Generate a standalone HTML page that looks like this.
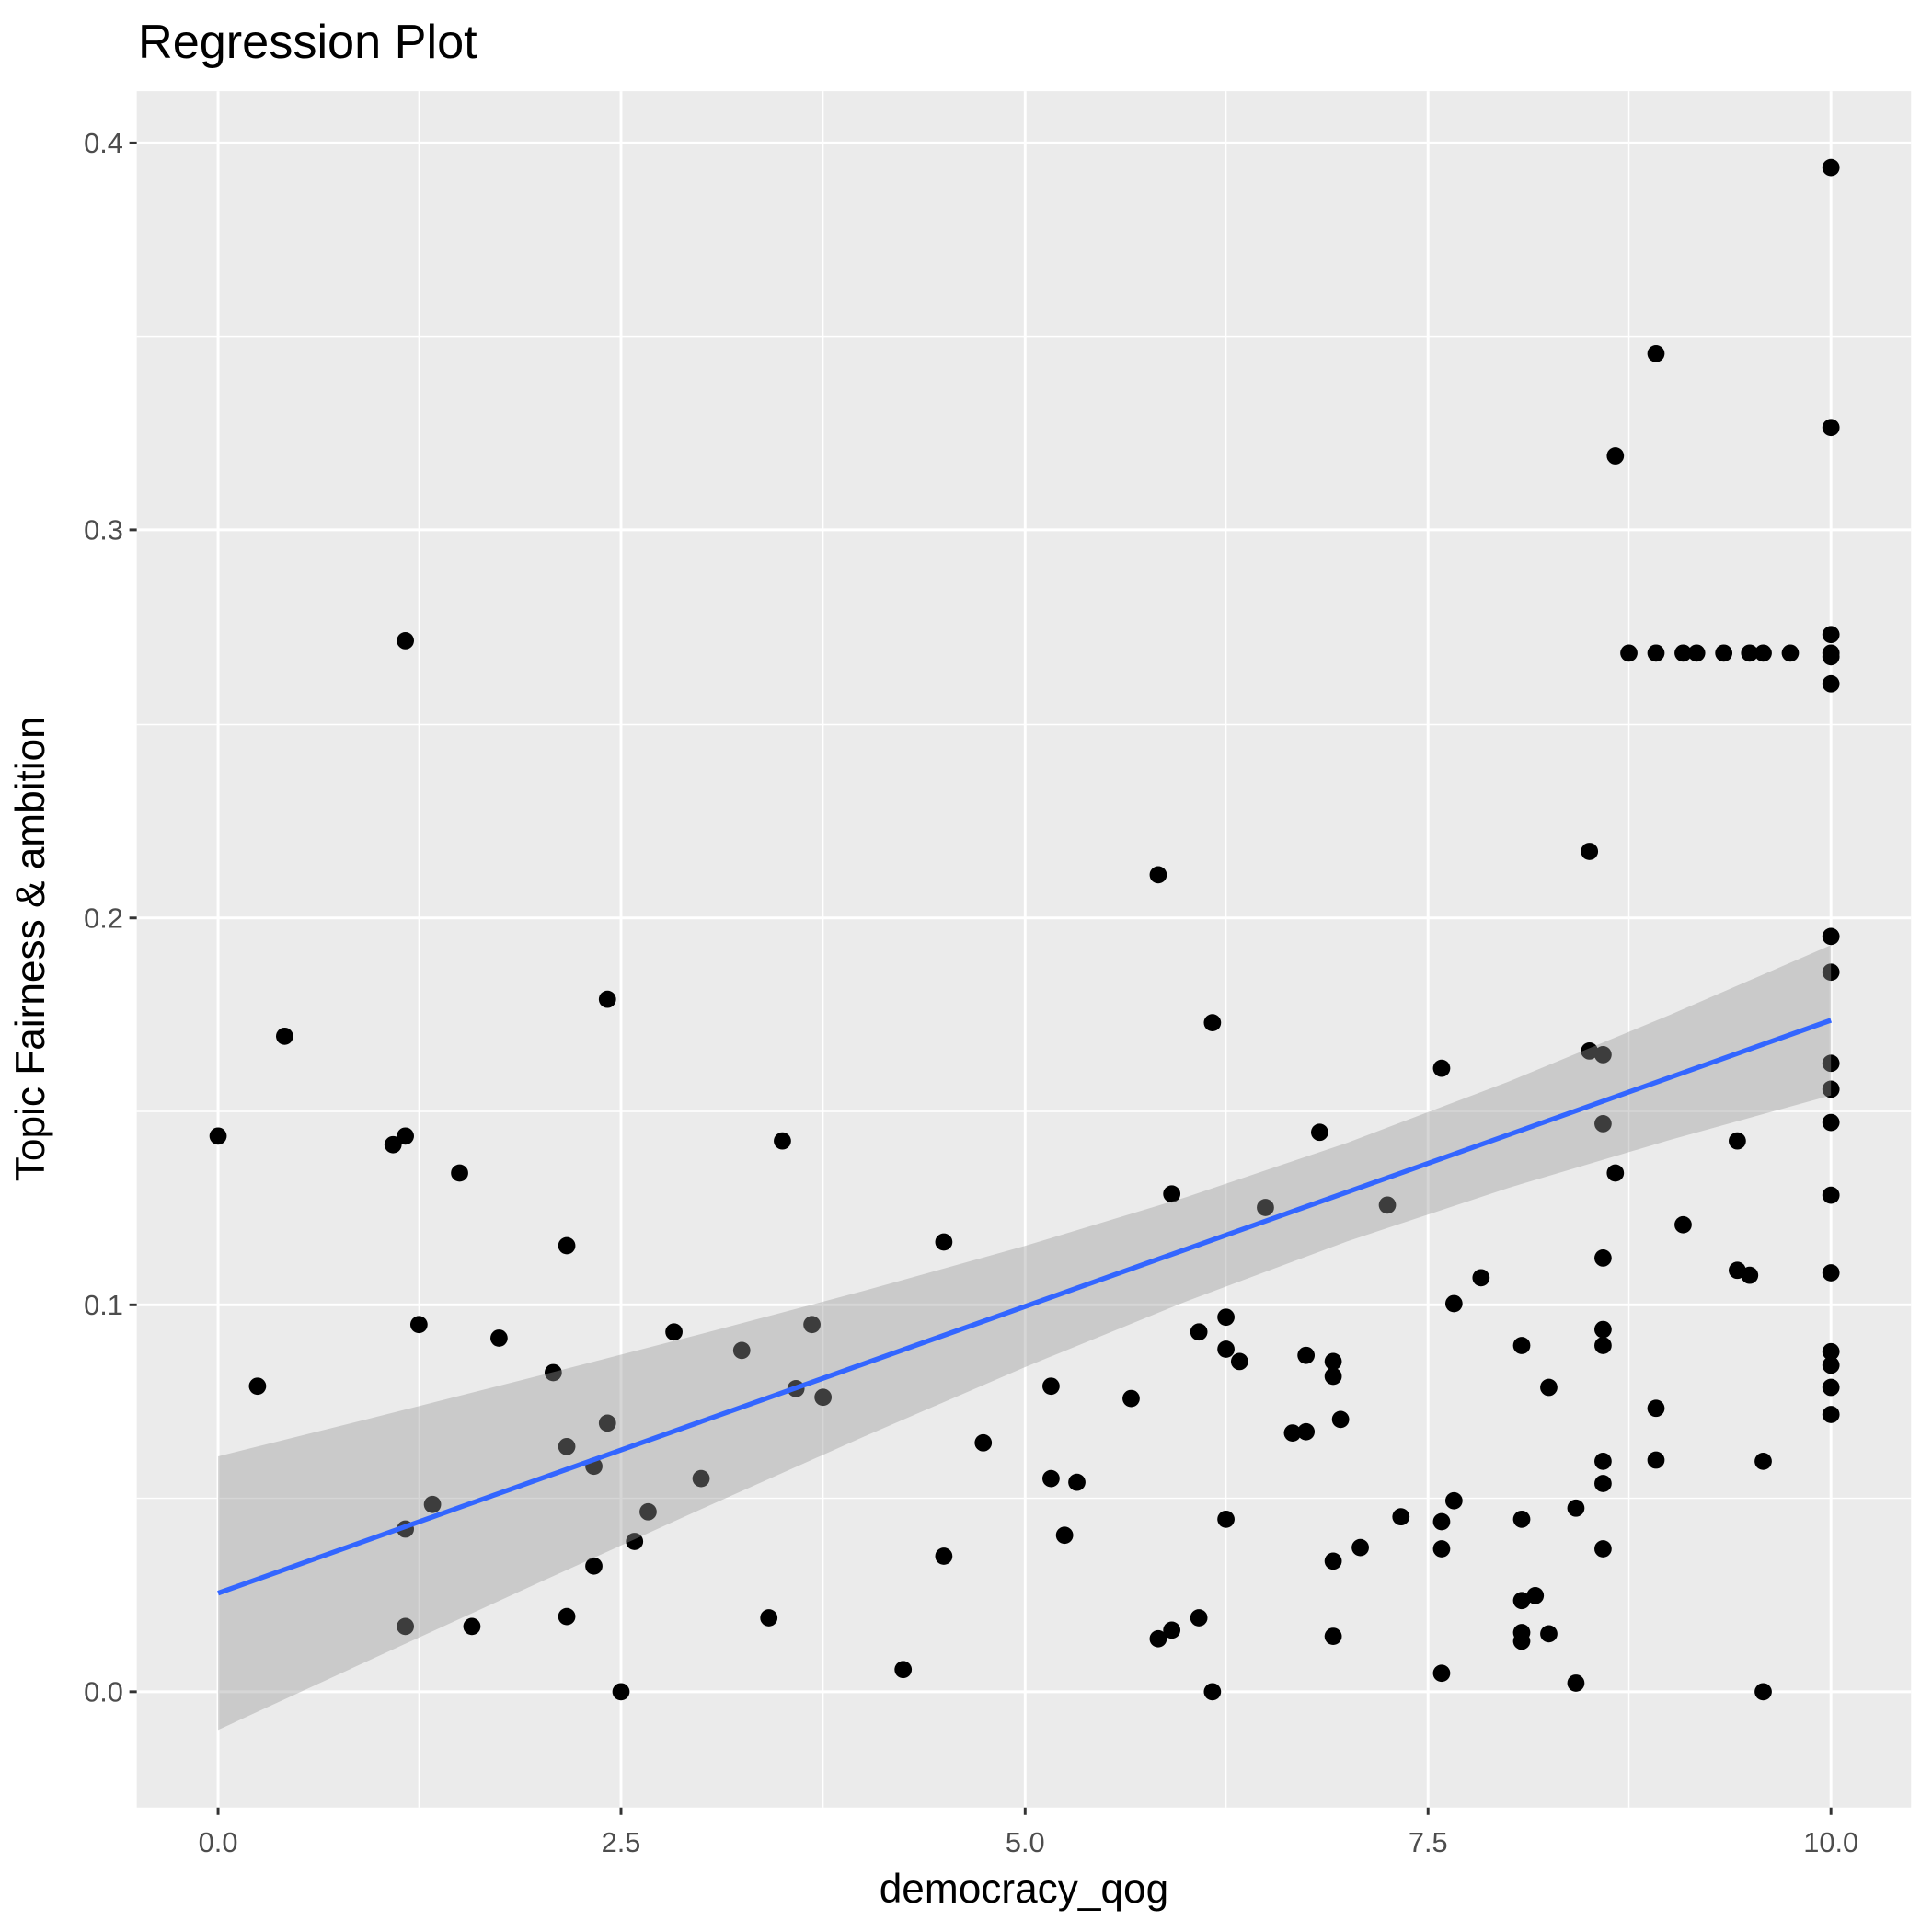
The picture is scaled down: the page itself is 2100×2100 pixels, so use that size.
<!DOCTYPE html>
<html><head><meta charset="utf-8"><style>html,body{margin:0;padding:0;background:#fff}svg{display:block}</style></head>
<body>
<svg xmlns="http://www.w3.org/2000/svg" width="2100" height="2100" viewBox="0 0 1568 1568" font-family="Liberation Sans, sans-serif">
<rect width="1568" height="1568" fill="#fff"/>
<rect x="111" y="74" width="1440" height="1393" fill="#EBEBEB"/>
<g stroke="#fff" stroke-width="1.1">
<line x1="340" y1="74" x2="340" y2="1467"/><line x1="668" y1="74" x2="668" y2="1467"/><line x1="995" y1="74" x2="995" y2="1467"/><line x1="1322" y1="74" x2="1322" y2="1467"/>
<line x1="111" y1="1216" x2="1551" y2="1216"/><line x1="111" y1="902" x2="1551" y2="902"/><line x1="111" y1="588" x2="1551" y2="588"/><line x1="111" y1="273" x2="1551" y2="273"/>
</g>
<g stroke="#fff" stroke-width="2.2">
<line x1="177" y1="74" x2="177" y2="1467"/><line x1="504" y1="74" x2="504" y2="1467"/><line x1="832" y1="74" x2="832" y2="1467"/><line x1="1159" y1="74" x2="1159" y2="1467"/><line x1="1486" y1="74" x2="1486" y2="1467"/>
<line x1="111" y1="1373" x2="1551" y2="1373"/><line x1="111" y1="1059" x2="1551" y2="1059"/><line x1="111" y1="745" x2="1551" y2="745"/><line x1="111" y1="430" x2="1551" y2="430"/><line x1="111" y1="116" x2="1551" y2="116"/>
</g>
<g fill="#000">
<circle cx="177" cy="922" r="7"/><circle cx="209" cy="1125" r="7"/><circle cx="231" cy="841" r="7"/><circle cx="319" cy="929" r="7"/><circle cx="329" cy="520" r="7"/><circle cx="329" cy="922" r="7"/><circle cx="340" cy="1075" r="7"/><circle cx="329" cy="1241" r="7"/><circle cx="329" cy="1320" r="7"/><circle cx="351" cy="1221" r="7"/><circle cx="373" cy="952" r="7"/><circle cx="383" cy="1320" r="7"/><circle cx="405" cy="1086" r="7"/><circle cx="449" cy="1114" r="7"/><circle cx="460" cy="1011" r="7"/><circle cx="460" cy="1174" r="7"/><circle cx="460" cy="1312" r="7"/><circle cx="482" cy="1190" r="7"/><circle cx="482" cy="1271" r="7"/><circle cx="493" cy="811" r="7"/><circle cx="493" cy="1155" r="7"/><circle cx="504" cy="1373" r="7"/><circle cx="515" cy="1251" r="7"/><circle cx="526" cy="1227" r="7"/><circle cx="547" cy="1081" r="7"/><circle cx="569" cy="1200" r="7"/><circle cx="602" cy="1096" r="7"/><circle cx="624" cy="1313" r="7"/><circle cx="635" cy="926" r="7"/><circle cx="646" cy="1127" r="7"/><circle cx="659" cy="1075" r="7"/><circle cx="668" cy="1134" r="7"/><circle cx="733" cy="1355" r="7"/><circle cx="766" cy="1008" r="7"/><circle cx="766" cy="1263" r="7"/><circle cx="798" cy="1171" r="7"/><circle cx="853" cy="1125" r="7"/><circle cx="853" cy="1200" r="7"/><circle cx="864" cy="1246" r="7"/><circle cx="874" cy="1203" r="7"/><circle cx="918" cy="1135" r="7"/><circle cx="940" cy="710" r="7"/><circle cx="940" cy="1330" r="7"/><circle cx="951" cy="969" r="7"/><circle cx="951" cy="1323" r="7"/><circle cx="973" cy="1081" r="7"/><circle cx="973" cy="1313" r="7"/><circle cx="984" cy="830" r="7"/><circle cx="984" cy="1373" r="7"/><circle cx="995" cy="1069" r="7"/><circle cx="995" cy="1095" r="7"/><circle cx="995" cy="1233" r="7"/><circle cx="1006" cy="1105" r="7"/><circle cx="1027" cy="980" r="7"/><circle cx="1049" cy="1163" r="7"/><circle cx="1060" cy="1100" r="7"/><circle cx="1060" cy="1162" r="7"/><circle cx="1071" cy="919" r="7"/><circle cx="1082" cy="1105" r="7"/><circle cx="1082" cy="1117" r="7"/><circle cx="1082" cy="1267" r="7"/><circle cx="1082" cy="1328" r="7"/><circle cx="1088" cy="1152" r="7"/><circle cx="1104" cy="1256" r="7"/><circle cx="1126" cy="978" r="7"/><circle cx="1137" cy="1231" r="7"/><circle cx="1170" cy="867" r="7"/><circle cx="1170" cy="1235" r="7"/><circle cx="1170" cy="1257" r="7"/><circle cx="1170" cy="1358" r="7"/><circle cx="1180" cy="1058" r="7"/><circle cx="1180" cy="1218" r="7"/><circle cx="1202" cy="1037" r="7"/><circle cx="1235" cy="1092" r="7"/><circle cx="1235" cy="1233" r="7"/><circle cx="1235" cy="1299" r="7"/><circle cx="1235" cy="1325" r="7"/><circle cx="1235" cy="1332" r="7"/><circle cx="1246" cy="1295" r="7"/><circle cx="1257" cy="1126" r="7"/><circle cx="1257" cy="1326" r="7"/><circle cx="1279" cy="1224" r="7"/><circle cx="1279" cy="1366" r="7"/><circle cx="1290" cy="691" r="7"/><circle cx="1290" cy="853" r="7"/><circle cx="1301" cy="856" r="7"/><circle cx="1301" cy="912" r="7"/><circle cx="1301" cy="1021" r="7"/><circle cx="1301" cy="1079" r="7"/><circle cx="1301" cy="1092" r="7"/><circle cx="1301" cy="1186" r="7"/><circle cx="1301" cy="1204" r="7"/><circle cx="1301" cy="1257" r="7"/><circle cx="1311" cy="370" r="7"/><circle cx="1311" cy="952" r="7"/><circle cx="1322" cy="530" r="7"/><circle cx="1344" cy="287" r="7"/><circle cx="1344" cy="530" r="7"/><circle cx="1344" cy="1143" r="7"/><circle cx="1344" cy="1185" r="7"/><circle cx="1366" cy="994" r="7"/><circle cx="1366" cy="530" r="7"/><circle cx="1377" cy="530" r="7"/><circle cx="1399" cy="530" r="7"/><circle cx="1410" cy="926" r="7"/><circle cx="1410" cy="1031" r="7"/><circle cx="1420" cy="530" r="7"/><circle cx="1420" cy="1035" r="7"/><circle cx="1431" cy="530" r="7"/><circle cx="1431" cy="1186" r="7"/><circle cx="1431" cy="1373" r="7"/><circle cx="1453" cy="530" r="7"/><circle cx="1486" cy="136" r="7"/><circle cx="1486" cy="347" r="7"/><circle cx="1486" cy="515" r="7"/><circle cx="1486" cy="530" r="7"/><circle cx="1486" cy="533" r="7"/><circle cx="1486" cy="555" r="7"/><circle cx="1486" cy="760" r="7"/><circle cx="1486" cy="789" r="7"/><circle cx="1486" cy="863" r="7"/><circle cx="1486" cy="884" r="7"/><circle cx="1486" cy="911" r="7"/><circle cx="1486" cy="970" r="7"/><circle cx="1486" cy="1033" r="7"/><circle cx="1486" cy="1097" r="7"/><circle cx="1486" cy="1108" r="7"/><circle cx="1486" cy="1126" r="7"/><circle cx="1486" cy="1148" r="7"/>
</g>
<polygon fill="#999999" fill-opacity="0.4" points="177,1182 307.9,1149.3 438.8,1116.2 569.7,1082.5 700.6,1047.8 831.5,1011.3 962.4,971.7 1093.3,927.5 1224.2,877.9 1355.1,823.8 1486,767 1486,889 1355.1,925.2 1224.2,964.1 1093.3,1007.5 962.4,1056.3 831.5,1109.7 700.6,1166.2 569.7,1224.5 438.8,1283.8 307.9,1343.7 177,1404"/>
<line x1="177" y1="1293" x2="1486" y2="828" stroke="#3366FF" stroke-width="4"/>
<g stroke="#333" stroke-width="2.2">
<line x1="105" y1="1373" x2="111" y2="1373"/><line x1="105" y1="1059" x2="111" y2="1059"/><line x1="105" y1="745" x2="111" y2="745"/><line x1="105" y1="430" x2="111" y2="430"/><line x1="105" y1="116" x2="111" y2="116"/>
<line x1="177" y1="1467" x2="177" y2="1473"/><line x1="504" y1="1467" x2="504" y2="1473"/><line x1="832" y1="1467" x2="832" y2="1473"/><line x1="1159" y1="1467" x2="1159" y2="1473"/><line x1="1486" y1="1467" x2="1486" y2="1473"/>
</g>
<g fill="#4D4D4D" font-size="23" text-anchor="end">
<text x="100" y="1381">0.0</text><text x="100" y="1067">0.1</text><text x="100" y="753">0.2</text><text x="100" y="438">0.3</text><text x="100" y="124">0.4</text>
</g>
<g fill="#4D4D4D" font-size="23" text-anchor="middle">
<text x="177" y="1503">0.0</text><text x="504" y="1503">2.5</text><text x="832" y="1503">5.0</text><text x="1159" y="1503">7.5</text><text x="1486" y="1503">10.0</text>
</g>
<text x="831" y="1544" font-size="33" text-anchor="middle" fill="#000">democracy_qog</text>
<text transform="translate(36,770) rotate(-90)" font-size="33" text-anchor="middle" fill="#000">Topic Fairness &amp; ambition</text>
<text x="112" y="47" font-size="39" fill="#000">Regression Plot</text>
</svg>
</body></html>
